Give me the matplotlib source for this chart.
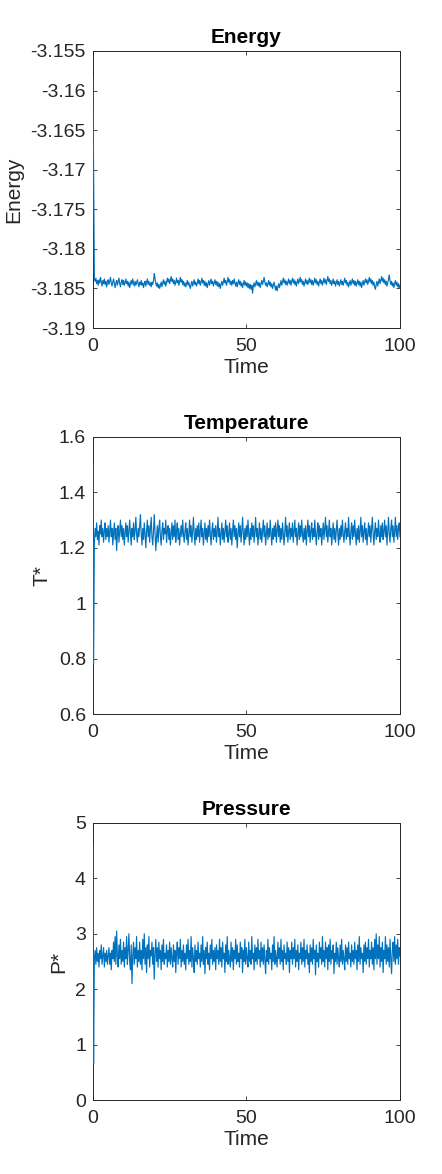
import numpy as np
import matplotlib.pyplot as plt

plt.rcParams["font.family"] = ["Liberation Sans", "DejaVu Sans"]

# sampled every 0.25 time units, t = 0 ... 100
time = np.linspace(0, 100, 401)

energy = [
    -3.1585, -3.1700, -3.1838, -3.1841, -3.1837, -3.1844, -3.1840, -3.1846, -3.1839, -3.1843, -3.1836, -3.1842, -3.1847, -3.1840, -3.1844, -3.1838, -3.1845, -3.1841, -3.1848, -3.1842,
    -3.1839, -3.1845, -3.1841, -3.1836, -3.1843, -3.1847, -3.1842, -3.1838, -3.1844, -3.1849, -3.1843, -3.1840, -3.1846, -3.1841, -3.1837, -3.1844, -3.1848, -3.1842, -3.1839, -3.1845,
    -3.1840, -3.1846, -3.1843, -3.1838, -3.1844, -3.1841, -3.1847, -3.1842, -3.1849, -3.1844, -3.1840, -3.1845, -3.1838, -3.1843, -3.1847, -3.1841, -3.1846, -3.1843, -3.1839, -3.1844,
    -3.1848, -3.1842, -3.1845, -3.1840, -3.1846, -3.1843, -3.1849, -3.1844, -3.1841, -3.1847, -3.1842, -3.1838, -3.1845, -3.1841, -3.1846, -3.1843, -3.1848, -3.1842, -3.1845, -3.1840,
    -3.1831, -3.1838, -3.1844, -3.1847, -3.1843, -3.1849, -3.1845, -3.1850, -3.1846, -3.1842, -3.1848, -3.1843, -3.1839, -3.1845, -3.1841, -3.1847, -3.1843, -3.1837, -3.1842, -3.1838,
    -3.1844, -3.1840, -3.1835, -3.1841, -3.1838, -3.1844, -3.1840, -3.1846, -3.1842, -3.1837, -3.1843, -3.1840, -3.1846, -3.1841, -3.1836, -3.1842, -3.1839, -3.1845, -3.1841, -3.1847,
    -3.1843, -3.1848, -3.1844, -3.1840, -3.1846, -3.1842, -3.1847, -3.1850, -3.1845, -3.1841, -3.1847, -3.1843, -3.1839, -3.1845, -3.1842, -3.1847, -3.1843, -3.1838, -3.1844, -3.1840,
    -3.1846, -3.1842, -3.1837, -3.1843, -3.1840, -3.1846, -3.1841, -3.1847, -3.1843, -3.1849, -3.1844, -3.1840, -3.1846, -3.1842, -3.1838, -3.1844, -3.1841, -3.1847, -3.1843, -3.1839,
    -3.1845, -3.1841, -3.1847, -3.1842, -3.1848, -3.1844, -3.1850, -3.1845, -3.1841, -3.1846, -3.1842, -3.1837, -3.1843, -3.1840, -3.1846, -3.1842, -3.1836, -3.1842, -3.1839, -3.1845,
    -3.1841, -3.1846, -3.1840, -3.1844, -3.1838, -3.1843, -3.1847, -3.1842, -3.1848, -3.1843, -3.1839, -3.1845, -3.1841, -3.1847, -3.1843, -3.1849, -3.1844, -3.1840, -3.1846, -3.1842,
    -3.1847, -3.1843, -3.1849, -3.1844, -3.1850, -3.1845, -3.1851, -3.1846, -3.1856, -3.1847, -3.1843, -3.1848, -3.1844, -3.1840, -3.1846, -3.1842, -3.1847, -3.1843, -3.1849, -3.1844,
    -3.1840, -3.1845, -3.1841, -3.1836, -3.1842, -3.1846, -3.1843, -3.1848, -3.1844, -3.1840, -3.1846, -3.1842, -3.1848, -3.1844, -3.1850, -3.1846, -3.1842, -3.1847, -3.1852, -3.1847,
    -3.1853, -3.1848, -3.1844, -3.1849, -3.1845, -3.1840, -3.1846, -3.1842, -3.1837, -3.1843, -3.1839, -3.1845, -3.1841, -3.1846, -3.1842, -3.1838, -3.1844, -3.1840, -3.1846, -3.1841,
    -3.1837, -3.1843, -3.1839, -3.1845, -3.1841, -3.1847, -3.1842, -3.1838, -3.1844, -3.1840, -3.1836, -3.1842, -3.1839, -3.1845, -3.1841, -3.1847, -3.1843, -3.1838, -3.1844, -3.1840,
    -3.1845, -3.1841, -3.1837, -3.1843, -3.1839, -3.1845, -3.1840, -3.1846, -3.1842, -3.1837, -3.1843, -3.1839, -3.1845, -3.1841, -3.1847, -3.1842, -3.1838, -3.1844, -3.1840, -3.1846,
    -3.1842, -3.1837, -3.1843, -3.1839, -3.1845, -3.1840, -3.1835, -3.1841, -3.1838, -3.1844, -3.1840, -3.1846, -3.1842, -3.1838, -3.1844, -3.1841, -3.1847, -3.1843, -3.1839, -3.1845,
    -3.1841, -3.1847, -3.1843, -3.1839, -3.1845, -3.1841, -3.1846, -3.1842, -3.1837, -3.1843, -3.1840, -3.1846, -3.1842, -3.1848, -3.1844, -3.1840, -3.1846, -3.1842, -3.1838, -3.1844,
    -3.1840, -3.1846, -3.1841, -3.1847, -3.1843, -3.1839, -3.1845, -3.1841, -3.1847, -3.1842, -3.1849, -3.1844, -3.1840, -3.1846, -3.1842, -3.1838, -3.1843, -3.1839, -3.1845, -3.1841,
    -3.1836, -3.1842, -3.1838, -3.1844, -3.1840, -3.1846, -3.1842, -3.1848, -3.1851, -3.1845, -3.1841, -3.1847, -3.1842, -3.1838, -3.1844, -3.1840, -3.1835, -3.1841, -3.1837, -3.1843,
    -3.1839, -3.1845, -3.1841, -3.1847, -3.1843, -3.1838, -3.1833, -3.1840, -3.1845, -3.1841, -3.1847, -3.1843, -3.1849, -3.1844, -3.1840, -3.1846, -3.1842, -3.1848, -3.1844, -3.1850,
    -3.1846,
]

temperature = [
    1.50, 0.78, 1.22, 1.27, 1.24, 1.29, 1.23, 1.26, 1.21, 1.28, 1.25, 1.30, 1.24, 1.27, 1.22, 1.26, 1.29, 1.23, 1.27, 1.24,
    1.28, 1.22, 1.26, 1.30, 1.24, 1.27, 1.21, 1.25, 1.29, 1.23, 1.27, 1.19, 1.25, 1.28, 1.22, 1.26, 1.30, 1.24, 1.28, 1.23,
    1.27, 1.21, 1.25, 1.29, 1.24, 1.28, 1.22, 1.26, 1.30, 1.25, 1.21, 1.27, 1.24, 1.29, 1.23, 1.26, 1.31, 1.25, 1.22, 1.27,
    1.24, 1.28, 1.32, 1.25, 1.21, 1.27, 1.23, 1.29, 1.25, 1.20, 1.26, 1.30, 1.24, 1.28, 1.22, 1.27, 1.31, 1.24, 1.21, 1.26,
    1.32, 1.25, 1.19, 1.24, 1.28, 1.22, 1.27, 1.30, 1.24, 1.21, 1.26, 1.29, 1.23, 1.27, 1.25, 1.30, 1.22, 1.26, 1.28, 1.23,
    1.27, 1.21, 1.25, 1.29, 1.23, 1.28, 1.24, 1.30, 1.22, 1.26, 1.29, 1.23, 1.27, 1.21, 1.25, 1.28, 1.24, 1.30, 1.25, 1.22,
    1.26, 1.29, 1.23, 1.27, 1.21, 1.25, 1.30, 1.24, 1.28, 1.22, 1.26, 1.31, 1.25, 1.21, 1.27, 1.23, 1.28, 1.24, 1.29, 1.22,
    1.26, 1.30, 1.24, 1.27, 1.21, 1.25, 1.29, 1.23, 1.27, 1.22, 1.28, 1.24, 1.30, 1.25, 1.21, 1.26, 1.29, 1.23, 1.27, 1.24,
    1.28, 1.22, 1.26, 1.31, 1.24, 1.27, 1.21, 1.25, 1.29, 1.23, 1.27, 1.22, 1.26, 1.30, 1.24, 1.28, 1.22, 1.25, 1.29, 1.23,
    1.27, 1.21, 1.26, 1.30, 1.24, 1.28, 1.23, 1.27, 1.20, 1.25, 1.29, 1.24, 1.28, 1.22, 1.26, 1.31, 1.25, 1.21, 1.27, 1.23,
    1.28, 1.24, 1.30, 1.25, 1.21, 1.27, 1.23, 1.29, 1.24, 1.28, 1.22, 1.26, 1.31, 1.24, 1.27, 1.21, 1.25, 1.29, 1.23, 1.27,
    1.22, 1.26, 1.30, 1.24, 1.28, 1.21, 1.25, 1.29, 1.23, 1.27, 1.24, 1.30, 1.25, 1.21, 1.27, 1.23, 1.28, 1.24, 1.29, 1.22,
    1.26, 1.30, 1.24, 1.28, 1.22, 1.27, 1.23, 1.29, 1.25, 1.21, 1.26, 1.31, 1.24, 1.28, 1.22, 1.26, 1.29, 1.23, 1.27, 1.24,
    1.29, 1.22, 1.26, 1.30, 1.24, 1.27, 1.21, 1.25, 1.29, 1.23, 1.28, 1.24, 1.30, 1.25, 1.22, 1.27, 1.23, 1.28, 1.21, 1.26,
    1.30, 1.24, 1.28, 1.22, 1.26, 1.29, 1.23, 1.27, 1.24, 1.30, 1.25, 1.21, 1.26, 1.29, 1.23, 1.28, 1.24, 1.27, 1.21, 1.25,
    1.29, 1.23, 1.27, 1.31, 1.24, 1.28, 1.22, 1.26, 1.30, 1.24, 1.27, 1.21, 1.25, 1.29, 1.23, 1.27, 1.22, 1.26, 1.30, 1.25,
    1.21, 1.27, 1.23, 1.28, 1.24, 1.30, 1.25, 1.22, 1.26, 1.29, 1.23, 1.27, 1.24, 1.31, 1.25, 1.21, 1.26, 1.29, 1.23, 1.28,
    1.24, 1.30, 1.25, 1.21, 1.27, 1.23, 1.28, 1.22, 1.26, 1.31, 1.24, 1.28, 1.22, 1.26, 1.29, 1.23, 1.27, 1.21, 1.25, 1.29,
    1.24, 1.28, 1.22, 1.27, 1.31, 1.25, 1.21, 1.26, 1.29, 1.23, 1.27, 1.24, 1.30, 1.25, 1.22, 1.28, 1.24, 1.29, 1.23, 1.26,
    1.30, 1.24, 1.28, 1.21, 1.26, 1.31, 1.25, 1.22, 1.27, 1.30, 1.24, 1.28, 1.22, 1.26, 1.31, 1.24, 1.28, 1.23, 1.27, 1.29,
    1.24,
]

pressure = [
    4.60, 0.65, 2.55, 2.70, 2.45, 2.75, 2.50, 2.65, 2.40, 2.70, 2.55, 2.80, 2.45, 2.60, 2.75, 2.40, 2.65, 2.50, 2.70, 2.45,
    2.60, 2.75, 2.45, 2.65, 2.35, 2.70, 2.55, 2.85, 2.50, 2.95, 2.45, 3.05, 2.60, 2.40, 2.80, 2.55, 2.90, 2.45, 2.70, 2.50,
    2.85, 2.40, 2.75, 2.55, 2.95, 2.45, 2.70, 3.00, 2.50, 2.35, 2.80, 2.10, 2.60, 2.85, 2.45, 2.75, 2.55, 2.95, 2.40, 2.70,
    2.50, 2.85, 2.45, 2.70, 2.35, 2.90, 2.55, 3.00, 2.45, 2.75, 2.30, 2.80, 2.55, 2.95, 2.40, 2.70, 2.60, 2.85, 2.45, 2.75,
    2.18, 2.65, 2.90, 2.50, 2.75, 2.40, 2.85, 2.55, 2.70, 2.35, 2.80, 2.50, 2.90, 2.45, 2.65, 2.55, 2.80, 2.40, 2.70, 2.50,
    2.85, 2.45, 2.75, 2.55, 2.40, 2.80, 2.50, 2.70, 2.30, 2.65, 2.85, 2.45, 2.75, 2.55, 2.90, 2.40, 2.70, 2.50, 2.80, 2.45,
    2.65, 2.35, 2.80, 2.55, 2.90, 2.45, 2.70, 2.50, 2.95, 2.40, 2.75, 2.55, 2.30, 2.80, 2.50, 2.70, 2.45, 2.85, 2.55, 2.65,
    2.40, 2.80, 2.50, 2.95, 2.45, 2.70, 2.28, 2.75, 2.55, 2.85, 2.45, 2.65, 2.35, 2.80, 2.55, 2.90, 2.45, 2.70, 2.50, 2.75,
    2.35, 2.80, 2.55, 2.70, 2.45, 2.90, 2.50, 2.75, 2.40, 2.85, 2.55, 2.65, 2.30, 2.80, 2.50, 2.95, 2.45, 2.70, 2.55, 2.40,
    2.85, 2.50, 2.75, 2.35, 2.70, 2.55, 2.90, 2.45, 2.80, 2.50, 2.65, 2.40, 2.85, 2.55, 2.75, 2.30, 2.70, 2.50, 2.90, 2.45,
    2.75, 2.55, 2.40, 2.85, 2.50, 2.70, 2.45, 2.95, 2.55, 2.65, 2.35, 2.80, 2.50, 2.75, 2.45, 2.90, 2.55, 2.70, 2.40, 2.85,
    2.50, 2.75, 2.45, 2.80, 2.55, 2.28, 2.70, 2.50, 2.90, 2.45, 2.75, 2.55, 2.65, 2.35, 2.80, 2.50, 2.95, 2.45, 2.70, 2.55,
    2.40, 2.85, 2.55, 2.75, 2.45, 2.90, 2.50, 2.70, 2.35, 2.80, 2.55, 2.65, 2.45, 2.85, 2.50, 2.75, 2.30, 2.70, 2.55, 2.85,
    2.45, 2.75, 2.55, 2.90, 2.40, 2.70, 2.50, 2.80, 2.35, 2.65, 2.55, 2.85, 2.45, 2.75, 2.50, 2.90, 2.40, 2.70, 2.55, 2.80,
    2.45, 2.65, 2.30, 2.80, 2.50, 2.75, 2.45, 2.90, 2.55, 2.70, 2.26, 2.80, 2.50, 2.65, 2.40, 2.85, 2.55, 2.75, 2.45, 2.95,
    2.50, 2.70, 2.40, 2.85, 2.55, 2.75, 2.35, 2.80, 2.50, 2.90, 2.45, 2.70, 2.55, 2.80, 2.28, 2.65, 2.50, 2.85, 2.45, 2.75,
    2.55, 2.40, 2.80, 2.50, 2.90, 2.45, 2.70, 2.55, 2.35, 2.80, 2.50, 2.75, 2.45, 2.85, 2.55, 2.65, 2.40, 2.80, 2.50, 2.70,
    2.45, 2.85, 2.55, 2.70, 2.35, 2.80, 2.50, 2.95, 2.45, 2.75, 2.55, 2.65, 2.30, 2.80, 2.50, 2.85, 2.45, 2.75, 2.55, 2.90,
    2.40, 2.70, 2.55, 2.85, 2.45, 2.75, 2.35, 2.90, 2.55, 3.00, 2.45, 2.80, 2.55, 2.95, 2.40, 2.75, 2.50, 2.85, 2.30, 2.70,
    2.55, 2.95, 2.45, 2.80, 2.50, 2.75, 2.40, 2.90, 2.55, 2.28, 2.70, 2.85, 2.50, 2.95, 2.45, 2.80, 2.55, 2.90, 2.45, 2.75,
    2.60,
]

titles = ["Energy", "Temperature", "Pressure"]
ylabels = ["Energy", "T*", "P*"]
ylims = [(-3.19, -3.155), (0.6, 1.6), (0, 5)]
yticks = [
    [-3.19, -3.185, -3.18, -3.175, -3.17, -3.165, -3.16, -3.155],
    [0.6, 0.8, 1.0, 1.2, 1.4, 1.6],
    [0, 1, 2, 3, 4, 5],
]
yticklabels = [
    ["-3.19", "-3.185", "-3.18", "-3.175", "-3.17", "-3.165", "-3.16", "-3.155"],
    ["0.6", "0.8", "1", "1.2", "1.4", "1.6"],
    ["0", "1", "2", "3", "4", "5"],
]
series = [energy, temperature, pressure]

fig = plt.figure(figsize=(4.42, 11.74), dpi=100)
bottoms = [0.7206, 0.3918, 0.0630]

for i in range(3):
    ax = fig.add_axes([0.210, bottoms[i], 0.695, 0.236])
    # line drawn above the box so the start-up jump shows on the left edge
    ax.plot(time, series[i], color="#0072BD", linewidth=0.85, zorder=3)
    ax.set_xlim(0, 100)
    ax.set_ylim(*ylims[i])
    ax.set_xticks([0, 50, 100])
    ax.set_yticks(yticks[i])
    ax.set_yticklabels(yticklabels[i])
    ax.tick_params(direction="in", length=3, width=0.6, top=True, right=True,
                   labelsize=14, colors="#262626")
    ax.tick_params(axis="x", pad=7)
    ax.tick_params(axis="y", pad=5)
    for sp in ax.spines.values():
        sp.set_linewidth(0.7)
        sp.set_color("#262626")
    ax.set_title(titles[i], fontsize=15, fontweight="bold", pad=6)
    ax.set_xlabel("Time", fontsize=15, color="#262626", labelpad=2)
    ax.set_ylabel(ylabels[i], fontsize=15, color="#262626", labelpad=5)

fig.savefig("out.png", dpi=100)
